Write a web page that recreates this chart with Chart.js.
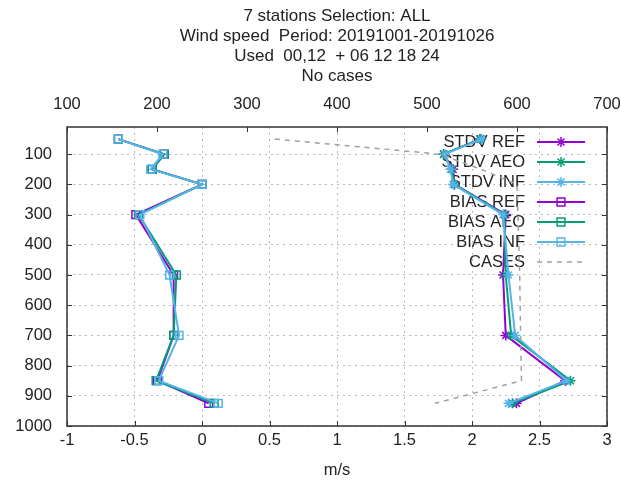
<!DOCTYPE html>
<html>
<head>
<meta charset="utf-8">
<script src="https://cdn.jsdelivr.net/npm/chart.js@4/dist/chart.umd.min.js"></script>
<style>
html, body { margin: 0; padding: 0; background: #fff; }
</style>
</head>
<body>
<canvas id="chart" width="621" height="483"></canvas>
<script>
// pressure levels (hPa)
var levels = [50, 100, 150, 200, 300, 500, 700, 850, 925]
// wind speed scores, m/s
var stdvRef = [2.06, 1.79, 1.86, 1.87, 2.25, 2.23, 2.25, 2.69, 2.33]
var stdvAeo = [2.06, 1.79, 1.85, 1.87, 2.24, 2.25, 2.29, 2.73, 2.30]
var stdvInf = [2.07, 1.80, 1.84, 1.86, 2.23, 2.27, 2.32, 2.70, 2.27]
var biasRef = [-0.62, -0.28, -0.37, 0.0, -0.49, -0.21, -0.21, -0.33, 0.05]
var biasAeo = [-0.62, -0.28, -0.37, 0.0, -0.47, -0.19, -0.21, -0.34, 0.09]
var biasInf = [-0.62, -0.29, -0.38, 0.0, -0.46, -0.24, -0.17, -0.32, 0.12]
// number of cases (top axis)
var cases = [331, 514, 560, 600, 601, 603, 604, 605, 509]

var seriesNames = ['STDV REF', 'STDV AEO', 'STDV INF', 'BIAS REF', 'BIAS AEO', 'BIAS INF', 'CASES']
var xTicks = [-1, -0.5, 0, 0.5, 1, 1.5, 2, 2.5, 3]
var x2Ticks = [100, 200, 300, 400, 500, 600, 700]
var yTicks = [100, 200, 300, 400, 500, 600, 700, 800, 900, 1000]
var titleLines = ['7 stations Selection: ALL', 'Wind speed  Period: 20191001-20191026', 'Used  00,12  + 06 12 18 24', 'No cases']

var purple = '#9400d3', green = '#009e73', blue = '#56b4e9', grey = '#a0a0a0'
var fontName = '"Liberation Sans", Arial, sans-serif'
var textColor = '#222222'

function pts(values) {
    return values.map(function (v, i) { return { x: v, y: levels[i] } })
}
function series(label, values, color, style, radius) {
    return {
        label: label,
        data: pts(values),
        showLine: true,
        borderColor: color,
        backgroundColor: 'rgba(0,0,0,0)',
        borderWidth: 2,
        pointStyle: style,
        pointRadius: radius,
        pointBorderWidth: 1.5,
        pointBorderColor: color,
        pointBackgroundColor: 'rgba(0,0,0,0)',
        tension: 0,
        xAxisID: 'x'
    }
}

var datasets = [
    series(seriesNames[0], stdvRef, purple, 'star', 5),
    series(seriesNames[1], stdvAeo, green, 'star', 5),
    series(seriesNames[2], stdvInf, blue, 'star', 5),
    series(seriesNames[3], biasRef, purple, 'rect', 5.5),
    series(seriesNames[4], biasAeo, green, 'rect', 5.5),
    series(seriesNames[5], biasInf, blue, 'rect', 5.5),
    {
        label: seriesNames[6],
        data: pts(cases),
        showLine: true,
        borderColor: grey,
        borderWidth: 1.5,
        borderDash: [5, 5],
        pointRadius: 0,
        tension: 0,
        xAxisID: 'x2'
    }
]
// gnuplot draws later plots on top
datasets.forEach(function (d, i) { d.order = datasets.length - i })

function setTicks(list) {
    return function (scale) { scale.ticks = list.map(function (v) { return { value: v } }) }
}
function plainLabel(v) { return String(v) }

var framePlugin = {
    id: 'frame',
    beforeDatasetsDraw: function (chart) {
        // key, top right inside the plot, text right aligned
        var ctx = chart.ctx
        ctx.save()
        ctx.font = '16.5px ' + fontName
        ctx.textAlign = 'right'
        ctx.textBaseline = 'middle'
        chart.data.datasets.forEach(function (d, i) {
            var y = 142 + 20 * i
            ctx.fillStyle = textColor
            ctx.fillText(d.label, 525, y)
            ctx.strokeStyle = d.borderColor
            ctx.lineWidth = d.borderWidth
            ctx.setLineDash(d.borderDash || [])
            ctx.beginPath()
            ctx.moveTo(537, y)
            ctx.lineTo(585, y)
            ctx.stroke()
            ctx.setLineDash([])
            if (d.pointRadius > 0) {
                ctx.fillStyle = 'rgba(0,0,0,0)'
                ctx.lineWidth = d.pointBorderWidth
                Chart.helpers.drawPoint(ctx, { pointStyle: d.pointStyle, radius: d.pointRadius, rotation: 0, borderWidth: d.pointBorderWidth }, 561, y)
            }
        })
        ctx.restore()
    },
    afterDraw: function (chart) {
        var ctx = chart.ctx
        var a = chart.chartArea
        var sx = chart.scales.x, sx2 = chart.scales.x2, sy = chart.scales.y
        ctx.save()
        // title
        ctx.font = '17px ' + fontName
        ctx.fillStyle = textColor
        ctx.textAlign = 'center'
        ctx.textBaseline = 'middle'
        titleLines.forEach(function (t, i) {
            ctx.fillText(t, (a.left + a.right) / 2, 16 + 20 * i)
        })
        // inward tick marks
        ctx.strokeStyle = '#333333'
        ctx.lineWidth = 1
        ctx.beginPath()
        yTicks.forEach(function (v) {
            var p = Math.round(sy.getPixelForValue(v)) + 0.5
            ctx.moveTo(a.left, p); ctx.lineTo(a.left + 5, p)
            ctx.moveTo(a.right, p); ctx.lineTo(a.right - 5, p)
        })
        xTicks.forEach(function (v) {
            var p = Math.round(sx.getPixelForValue(v)) + 0.5
            ctx.moveTo(p, a.bottom); ctx.lineTo(p, a.bottom - 5)
        })
        x2Ticks.forEach(function (v) {
            var p = Math.round(sx2.getPixelForValue(v)) + 0.5
            ctx.moveTo(p, a.top); ctx.lineTo(p, a.top + 5)
        })
        ctx.stroke()
        // border
        ctx.lineWidth = 1.5
        ctx.strokeRect(a.left, a.top, a.right - a.left, a.bottom - a.top)
        ctx.restore()
    }
}

var tickFont = { family: fontName, size: 16.5 }
var gridStyle = { color: '#b8b8b8', lineWidth: 1, drawTicks: false, tickLength: 0 }

function fitX(h) {
    return function (s) { s.height = h; s.paddingLeft = 0; s.paddingRight = 0 }
}

new Chart(document.getElementById('chart').getContext('2d'), {
    type: 'scatter',
    data: { datasets: datasets },
    options: {
        responsive: false,
        animation: false,
        devicePixelRatio: 1,
        layout: { padding: { top: 87, right: 14, bottom: 0, left: 0 } },
        plugins: {
            legend: { display: false },
            title: { display: false },
            tooltip: { enabled: false }
        },
        scales: {
            x: {
                type: 'linear',
                position: 'bottom',
                min: -1,
                max: 3,
                afterBuildTicks: setTicks(xTicks),
                afterFit: fitX(57),
                grid: gridStyle,
                border: { display: false, dash: [2, 4] },
                ticks: { color: textColor, font: tickFont, padding: 5, maxRotation: 0, callback: plainLabel },
                title: { display: true, text: 'm/s', color: textColor, font: tickFont, padding: { top: 0, bottom: 3 } }
            },
            x2: {
                type: 'linear',
                position: 'top',
                min: 100,
                max: 700,
                afterBuildTicks: setTicks(x2Ticks),
                afterFit: fitX(40),
                grid: { drawOnChartArea: false, drawTicks: false, tickLength: 0 },
                border: { display: false },
                ticks: { color: textColor, font: tickFont, padding: 13, maxRotation: 0, callback: plainLabel }
            },
            y: {
                type: 'linear',
                position: 'left',
                reverse: true,
                min: 10,
                max: 1000,
                afterBuildTicks: setTicks(yTicks),
                afterFit: function (s) { s.width = 67; s.paddingTop = 0; s.paddingBottom = 0 },
                grid: gridStyle,
                border: { display: false, dash: [2, 4] },
                ticks: { color: textColor, font: tickFont, padding: 15, callback: plainLabel }
            }
        }
    },
    plugins: [framePlugin]
})
</script>
</body>
</html>
